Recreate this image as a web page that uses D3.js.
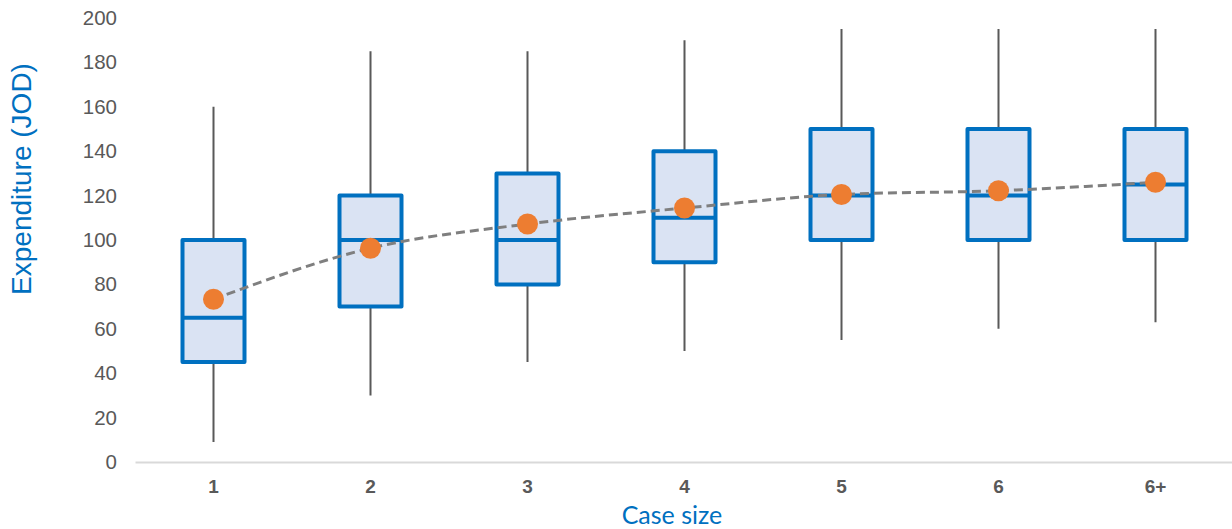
<!DOCTYPE html>
<meta charset="utf-8">
<style>
  body { margin: 0; background: #fff; }
  .tick text { fill: #595959; }
</style>
<svg width="1232" height="529"></svg>
<script src="https://d3js.org/d3.v7.min.js"></script>
<script>

var categories = ["1", "2", "3", "4", "5", "6", "6+"];
var whiskerLow = [9, 30, 45, 50, 55, 60, 63];
var quartile1 = [45, 70, 80, 90, 100, 100, 100];
var medians = [65, 100, 100, 110, 120, 120, 125];
var quartile3 = [100, 120, 130, 140, 150, 150, 150];
var whiskerHigh = [160, 185, 185, 190, 195, 195, 195];
var means = [73.3, 96.3, 107.2, 114.4, 120.5, 122.2, 126];
var yTicks = [0, 20, 40, 60, 80, 100, 120, 140, 160, 180, 200];

var svg = d3.select("svg"),
    plotLeft = 135, plotRight = 1234, plotTop = 18, plotBottom = 462;

var x = d3.scaleBand().domain(categories).range([plotLeft, plotRight]);
var y = d3.scaleLinear().domain([0, 200]).range([plotBottom, plotTop]);
var cx = function(i) { return x(categories[i]) + x.bandwidth() / 2; };
var boxW = 62;

var rows = categories.map(function(c, i) {
  return {c: c, lo: whiskerLow[i], q1: quartile1[i], med: medians[i],
          q3: quartile3[i], hi: whiskerHigh[i], mean: means[i]};
});

// y axis, labels only
var yAxis = svg.append("g")
    .attr("transform", "translate(" + plotLeft + ",0)")
    .call(d3.axisLeft(y).tickValues(yTicks).tickSize(0).tickPadding(18));
yAxis.select(".domain").remove();
yAxis.selectAll("text")
    .attr("font-family", "Liberation Sans, Arial, sans-serif")
    .attr("font-size", 20.5);

// x axis
var xAxis = svg.append("g")
    .attr("transform", "translate(0," + plotBottom + ")")
    .call(d3.axisBottom(x).tickSize(0).tickPadding(18));
xAxis.select(".domain").attr("stroke", "#d9d9d9").attr("stroke-width", 2);
xAxis.selectAll("text")
    .attr("font-family", "Liberation Sans, Arial, sans-serif")
    .attr("font-size", 19)
    .attr("font-weight", "bold");

// whiskers
svg.append("g").selectAll("line")
  .data(rows).join("line")
    .attr("x1", function(d, i) { return cx(i); })
    .attr("x2", function(d, i) { return cx(i); })
    .attr("y1", function(d) { return y(d.lo); })
    .attr("y2", function(d) { return y(d.hi); })
    .attr("stroke", "#595959")
    .attr("stroke-width", 2);

// boxes
svg.append("g").selectAll("rect")
  .data(rows).join("rect")
    .attr("x", function(d, i) { return cx(i) - boxW / 2; })
    .attr("y", function(d) { return y(d.q3); })
    .attr("width", boxW)
    .attr("height", function(d) { return y(d.q1) - y(d.q3); })
    .attr("fill", "#dae3f3")
    .attr("stroke", "#0070c0")
    .attr("stroke-width", 4)
    .attr("stroke-linejoin", "round");

// medians
svg.append("g").selectAll("line")
  .data(rows).join("line")
    .attr("x1", function(d, i) { return cx(i) - boxW / 2; })
    .attr("x2", function(d, i) { return cx(i) + boxW / 2; })
    .attr("y1", function(d) { return y(d.med); })
    .attr("y2", function(d) { return y(d.med); })
    .attr("stroke", "#0070c0")
    .attr("stroke-width", 4);

// mean line (smoothed)
var line = d3.line()
    .x(function(d, i) { return cx(i); })
    .y(function(d) { return y(d.mean); })
    .curve(d3.curveMonotoneX);

svg.append("path")
    .datum(rows)
    .attr("d", line)
    .attr("fill", "none")
    .attr("stroke", "#7f7f7f")
    .attr("stroke-width", 3)
    .attr("stroke-dasharray", "9,5");

svg.append("g").selectAll("circle")
  .data(rows).join("circle")
    .attr("cx", function(d, i) { return cx(i); })
    .attr("cy", function(d) { return y(d.mean); })
    .attr("r", 10.5)
    .attr("fill", "#ed7d31");

// titles
svg.append("text")
    .attr("transform", "translate(31,179) rotate(-90)")
    .attr("text-anchor", "middle")
    .attr("font-family", "Liberation Sans, Arial, sans-serif")
    .attr("font-size", 28)
    .attr("fill", "#0070c0")
    .text("Expenditure (JOD)");

svg.append("text")
    .attr("x", 672)
    .attr("y", 524)
    .attr("text-anchor", "middle")
    .attr("font-family", "Lato, sans-serif")
    .attr("font-size", 25)
    .attr("fill", "#0070c0")
    .text("Case size");

</script>
